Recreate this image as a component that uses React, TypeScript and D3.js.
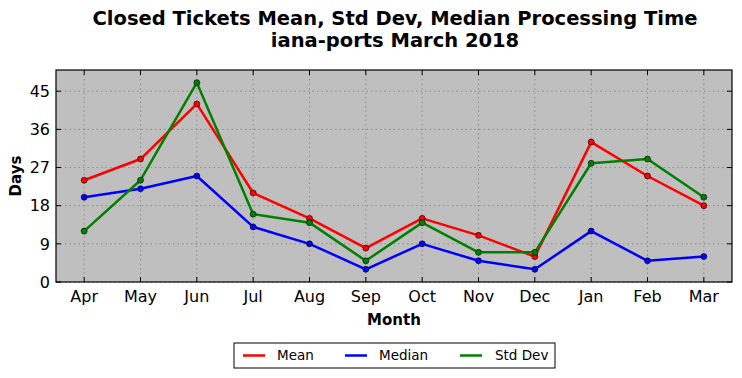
import React from "react";
import * as d3 from "d3";

const months = ["Apr", "May", "Jun", "Jul", "Aug", "Sep", "Oct", "Nov", "Dec", "Jan", "Feb", "Mar"];
const meanValues = [24, 29, 42, 21, 15, 8, 15, 11, 6, 33, 25, 18];
const medianValues = [20, 22, 25, 13, 9, 3, 9, 5, 3, 12, 5, 6];
const stdValues = [12, 24, 47, 16, 14, 5, 14, 7, 7, 28, 29, 20];
const yTicks = [0, 9, 18, 27, 36, 45];

const series = [
  { name: "Mean", color: "#ff0000", values: meanValues },
  { name: "Median", color: "#0000ff", values: medianValues },
  { name: "Std Dev", color: "#008000", values: stdValues },
];

const W = 742, H = 378;
const M = { left: 56, right: 732, top: 70, bottom: 282 };
const FONT = "DejaVu Sans, sans-serif";

export default function App() {
  const x = d3.scaleLinear().domain([-0.5, months.length - 0.5]).range([M.left, M.right]);
  const y = d3.scaleLinear().domain([0, 50]).range([M.bottom, M.top]);
  const line = d3.line<number>().x((_, i) => x(i)).y((v) => y(v));

  const legendX = 234, legendY = 343, legendW = 321, legendH = 25;
  const legendItems = [
    { ...series[0], lx: 243, tx: 277 },
    { ...series[1], lx: 345, tx: 379 },
    { ...series[2], lx: 460, tx: 495 },
  ];

  return (
    <svg width={W} height={H} style={{ position: "absolute", left: 0, top: 0 }} fontFamily={FONT}>
      <rect width={W} height={H} fill="#ffffff" />
      <text x={395} y={25} textAnchor="middle" fontSize={19.5} fontWeight="bold">
        Closed Tickets Mean, Std Dev, Median Processing Time
      </text>
      <text x={395} y={47} textAnchor="middle" fontSize={19.5} fontWeight="bold">
        iana-ports March 2018
      </text>
      <rect x={M.left} y={M.top} width={M.right - M.left} height={M.bottom - M.top} fill="#bfbfbf" />
      {/* grid */}
      {yTicks.map((t) => (
        <line key={"gy" + t} x1={M.left} x2={M.right} y1={y(t)} y2={y(t)} stroke="#808080" strokeWidth={0.8} strokeDasharray="1.5,3" />
      ))}
      {months.map((m, i) => (
        <line key={"gx" + m} x1={x(i)} x2={x(i)} y1={M.top} y2={M.bottom} stroke="#808080" strokeWidth={0.8} strokeDasharray="1.5,3" />
      ))}
      {/* lines */}
      {series.map((s) => (
        <g key={s.name}>
          <path d={line(s.values) || ""} fill="none" stroke={s.color} strokeWidth={2.5} strokeLinejoin="round" />
          {s.values.map((v, i) => (
            <circle key={i} cx={x(i)} cy={y(v)} r={3} fill={s.color} stroke="#000" strokeWidth={0.6} />
          ))}
        </g>
      ))}
      {/* ticks */}
      {yTicks.map((t) => (
        <g key={"ty" + t}>
          <line x1={M.left} x2={M.left + 5} y1={y(t)} y2={y(t)} stroke="#000" />
          <line x1={M.right} x2={M.right - 5} y1={y(t)} y2={y(t)} stroke="#000" />
          <text x={M.left - 6} y={y(t)} dy="0.36em" textAnchor="end" fontSize={16}>{t}</text>
        </g>
      ))}
      {months.map((m, i) => (
        <g key={"tx" + m}>
          <line x1={x(i)} x2={x(i)} y1={M.bottom} y2={M.bottom - 5} stroke="#000" />
          <line x1={x(i)} x2={x(i)} y1={M.top} y2={M.top + 5} stroke="#000" />
          <text x={x(i)} y={M.bottom + 20} textAnchor="middle" fontSize={16}>{m}</text>
        </g>
      ))}
      <rect x={M.left} y={M.top} width={M.right - M.left} height={M.bottom - M.top} fill="none" stroke="#000" strokeWidth={1.2} />
      <text x={394} y={325} textAnchor="middle" fontSize={15} fontWeight="bold">Month</text>
      <text transform={`translate(21,${(M.top + M.bottom) / 2}) rotate(-90)`} textAnchor="middle" fontSize={15} fontWeight="bold">Days</text>
      {/* legend */}
      <rect x={legendX} y={legendY} width={legendW} height={legendH} fill="#fff" stroke="#000" strokeWidth={1} />
      {legendItems.map((it) => (
        <g key={it.name}>
          <line x1={it.lx} x2={it.lx + 22} y1={legendY + 12.5} y2={legendY + 12.5} stroke={it.color} strokeWidth={2.5} />
          <text x={it.tx} y={legendY + 12.5} dy="0.35em" fontSize={13.5}>{it.name}</text>
        </g>
      ))}
    </svg>
  );
}
